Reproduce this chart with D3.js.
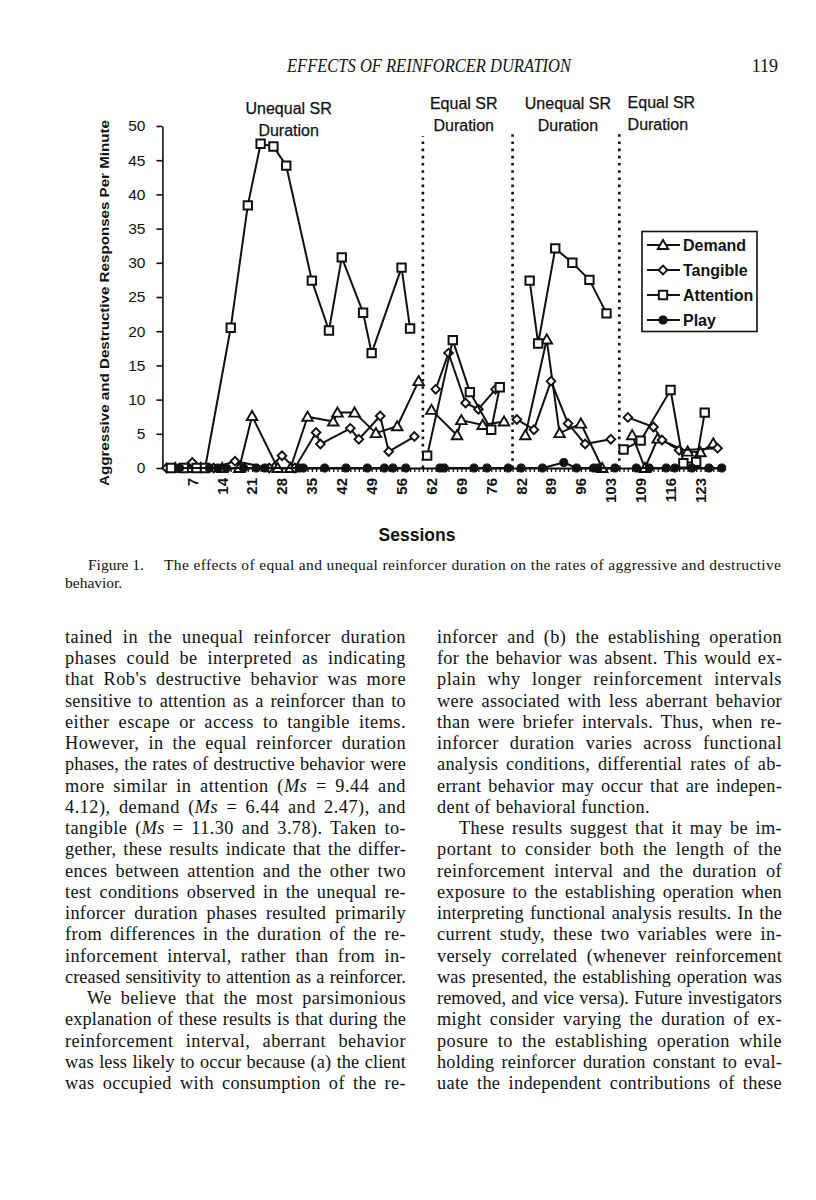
<!DOCTYPE html>
<html>
<head>
<meta charset="utf-8">
<script src="https://cdn.jsdelivr.net/npm/d3@7"></script>
<style>
  body { margin: 0; background: #fff; }
  #page { position: relative; width: 816px; height: 1200px; overflow: hidden; background: #fff; }
</style>
</head>
<body>
<div id="page"></div>
<script>
// Sessions in each phase; a blank category sits between phases
const phaseSessions = [[1, 60], [61, 80], [81, 104], [105, 128]];
const phaseNames = [["Unequal SR", "Duration"], ["Equal SR", "Duration"], ["Unequal SR", "Duration"], ["Equal SR", "Duration"]];
const yTicks = [0, 5, 10, 15, 20, 25, 30, 35, 40, 45, 50];

// [session, responses per minute]
const demand = [[3,0],[6,0],[9,0],[14,0],[18,0],[21,7.6],[27,0],[30,0],[34,7.5],[40,6.8],[41,8.1],[45,8.1],[50,5.1],[55,6.1],[60,12.7],
  [62,8.5],[68,4.8],[69,7.0],[74,6.3],[79,6.8],
  [83,4.8],[88,18.8],[91,5.1],[96,6.5],[101,0],
  [107,4.8],[110,0],[113,4.3],[120,2.4],[123,2.3],[126,3.6]];
const tangible = [[1,0],[7,0.8],[12,0],[17,1.0],[25,0],[28,1.8],[31,0],[36,5.2],[37,3.5],[44,5.8],[46,4.2],[51,7.6],[53,2.4],[59,4.6],
  [63,11.5],[66,16.8],[70,9.5],[73,8.6],[77,11.5],
  [81,7.1],[85,5.6],[89,12.7],[93,6.5],[97,3.5],[103,4.2],
  [106,7.4],[112,6.0],[114,4.1],[118,2.6],[127,2.9]];
const attention = [[2,0],[5,0],[8,0],[10,0],[16,20.5],[20,38.4],[23,47.4],[26,47.0],[29,44.2],[35,27.4],[39,20.1],[42,30.8],[47,22.7],[49,16.8],[56,29.3],[58,20.4],
  [61,1.8],[67,18.7],[71,11.1],[76,5.6],[78,11.8],
  [84,27.4],[86,18.2],[90,32.1],[94,30.0],[98,27.5],[102,22.6],
  [105,2.7],[109,4.0],[116,11.4],[119,0.7],[122,0.9],[124,8.1]];
const play = [[4,0],[11,0],[13,0],[15,0],[19,0],[22,0],[24,0],[32,0],[33,0],[38,0],[43,0],[48,0],[52,0],[54,0],[57,0],
  [64,0],[65,0],[72,0],[75,0],[80,0],
  [82,0],[87,0],[92,0.8],[95,0],[99,0],[100,0],[104,0],
  [108,0],[111,0],[115,0],[117,0],[121,0],[125,0],[128,0]];

const headerText = "EFFECTS OF REINFORCER DURATION";
const pageNumber = "119";
const captionLines = ["Figure 1.", "The effects of equal and unequal reinforcer duration on the rates of aggressive and destructive", "behavior."];

// body text, one entry per printed line; _x_ marks italics, leading ">" a paragraph indent, trailing "|" an unjustified line
const leftColumn = [
  "tained in the unequal reinforcer duration",
  "phases could be interpreted as indicating",
  "that Rob's destructive behavior was more",
  "sensitive to attention as a reinforcer than to",
  "either escape or access to tangible items.",
  "However, in the equal reinforcer duration",
  "phases, the rates of destructive behavior were",
  "more similar in attention (_Ms_ = 9.44 and",
  "4.12), demand (_Ms_ = 6.44 and 2.47), and",
  "tangible (_Ms_ = 11.30 and 3.78). Taken to-",
  "gether, these results indicate that the differ-",
  "ences between attention and the other two",
  "test conditions observed in the unequal re-",
  "inforcer duration phases resulted primarily",
  "from differences in the duration of the re-",
  "inforcement interval, rather than from in-",
  "creased sensitivity to attention as a reinforcer.",
  ">We believe that the most parsimonious",
  "explanation of these results is that during the",
  "reinforcement interval, aberrant behavior",
  "was less likely to occur because (a) the client",
  "was occupied with consumption of the re-"
];
const rightColumn = [
  "inforcer and (b) the establishing operation",
  "for the behavior was absent. This would ex-",
  "plain why longer reinforcement intervals",
  "were associated with less aberrant behavior",
  "than were briefer intervals. Thus, when re-",
  "inforcer duration varies across functional",
  "analysis conditions, differential rates of ab-",
  "errant behavior may occur that are indepen-",
  "dent of behavioral function.|",
  ">These results suggest that it may be im-",
  "portant to consider both the length of the",
  "reinforcement interval and the duration of",
  "exposure to the establishing operation when",
  "interpreting functional analysis results. In the",
  "current study, these two variables were in-",
  "versely correlated (whenever reinforcement",
  "was presented, the establishing operation was",
  "removed, and vice versa). Future investigators",
  "might consider varying the duration of ex-",
  "posure to the establishing operation while",
  "holding reinforcer duration constant to eval-",
  "uate the independent contributions of these"
];

// categories: session numbers with a blank slot between phases
const categories = [];
phaseSessions.forEach(([a, b], i) => {
  if (i > 0) categories.push(null);
  for (let s = a; s <= b; s++) categories.push(s);
});
const idxOf = s => categories.indexOf(s) + 1;
const blanks = categories.map((c, i) => c === null ? i + 1 : -1).filter(i => i > 0);

const svg = d3.select("#page").append("svg")
  .attr("width", 816).attr("height", 1200)
  .style("position", "absolute").style("left", 0).style("top", 0);

const sans = "'Liberation Sans', Arial, sans-serif";
const serif = "'Liberation Serif', 'Times New Roman', serif";

const x = d3.scaleLinear().domain([0, categories.length]).range([162.4, 721.8]);
const y = d3.scaleLinear().domain([0, 50]).range([468, 126]);

// header
svg.append("text").attr("x", 429).attr("y", 72).attr("text-anchor", "middle")
  .attr("font-family", serif).attr("font-style", "italic").attr("font-size", 18)
  .attr("textLength", 284).attr("lengthAdjust", "spacingAndGlyphs")
  .attr("fill", "#111").text(headerText);
svg.append("text").attr("x", 778).attr("y", 72).attr("text-anchor", "end")
  .attr("font-family", serif).attr("font-size", 18).attr("fill", "#111").text(pageNumber);

// axes
const yAxis = svg.append("g").attr("transform", `translate(${x(0)},0)`)
  .call(d3.axisLeft(y).tickValues(yTicks).tickSize(6).tickSizeOuter(0).tickPadding(11));
yAxis.selectAll("text").attr("font-family", sans).attr("font-size", 15.5).attr("fill", "#111");
yAxis.selectAll("line, path").attr("stroke", "#111").attr("stroke-width", 1.6);

const allIdx = d3.range(1, categories.length + 1);
const xAxis = svg.append("g").attr("transform", `translate(0,${y(0)})`)
  .call(d3.axisBottom(x).tickValues(allIdx).tickSize(4).tickSizeOuter(0).tickFormat(""));
xAxis.selectAll("line, path").attr("stroke", "#111").attr("stroke-width", 1.3);
xAxis.select("path").attr("stroke-width", 1.8);

const labelIdx = allIdx.filter(i => i % 7 === 0);
svg.append("g").selectAll("text").data(labelIdx).join("text")
  .attr("transform", d => `translate(${x(d)},478) rotate(-90)`)
  .attr("text-anchor", "end").attr("dy", "0.36em")
  .attr("font-family", sans).attr("font-weight", "bold").attr("font-size", 15)
  .attr("fill", "#111")
  .text(d => categories[d - 1]);

svg.append("text").attr("x", 417).attr("y", 541).attr("text-anchor", "middle")
  .attr("font-family", sans).attr("font-weight", "bold").attr("font-size", 17.5)
  .attr("fill", "#111").text("Sessions");

svg.append("text")
  .attr("transform", `translate(109,${(y(0) + y(50)) / 2 + 6}) rotate(-90)`)
  .attr("text-anchor", "middle")
  .attr("font-family", sans).attr("font-weight", "bold").attr("font-size", 13)
  .attr("textLength", 366).attr("lengthAdjust", "spacingAndGlyphs")
  .attr("fill", "#111").text("Aggressive and Destructive Responses Per Minute");

// phase change lines
svg.append("g").selectAll("line").data(blanks).join("line")
  .attr("x1", d => x(d)).attr("x2", d => x(d))
  .attr("y1", y(0)).attr("y2", (d, i) => i === 0 ? 136 : 133)
  .attr("stroke", "#111").attr("stroke-width", 2.6).attr("stroke-dasharray", "2.6,4.6");

// phase labels
const phaseSpans = phaseSessions.map(([a, b]) => [idxOf(a), idxOf(b)]);
const labelShift = [-4, -4, 2];
phaseNames.forEach((lines, i) => {
  const [a, b] = phaseSpans[i];
  const last = i === phaseNames.length - 1;
  const cx = last ? x(a) + 4 : x((a + b) / 2) + labelShift[i];
  const base = i === 0 ? 114 : (last ? 108 : 109);
  lines.forEach((t, j) => {
    svg.append("text").attr("x", cx).attr("y", base + j * 22)
      .attr("text-anchor", last ? "start" : "middle")
      .attr("font-family", sans).attr("font-size", 16)
      .attr("stroke", "#111").attr("stroke-width", 0.25)
      .attr("fill", "#111").text(t);
  });
});

// series
const series = [
  { name: "Demand", data: demand, shape: "triangle" },
  { name: "Tangible", data: tangible, shape: "diamond" },
  { name: "Attention", data: attention, shape: "square" },
  { name: "Play", data: play, shape: "circle" }
];

function drawMarker(g, shape, cx, cy) {
  if (shape === "triangle") {
    g.append("path").attr("d", d3.symbol().type(d3.symbolTriangle).size(48)())
      .attr("transform", `translate(${cx},${cy + 1})`)
      .attr("fill", "#fff").attr("stroke", "#111").attr("stroke-width", 1.9);
  } else if (shape === "diamond") {
    g.append("path").attr("d", d3.symbol().type(d3.symbolSquare).size(38)())
      .attr("transform", `translate(${cx},${cy}) rotate(45)`)
      .attr("fill", "#fff").attr("stroke", "#111").attr("stroke-width", 1.9);
  } else if (shape === "square") {
    g.append("path").attr("d", d3.symbol().type(d3.symbolSquare).size(70)())
      .attr("transform", `translate(${cx},${cy})`)
      .attr("fill", "#fff").attr("stroke", "#111").attr("stroke-width", 2);
  } else {
    g.append("path").attr("d", d3.symbol().type(d3.symbolCircle).size(52)())
      .attr("transform", `translate(${cx},${cy})`)
      .attr("fill", "#111").attr("stroke", "#111").attr("stroke-width", 1);
  }
}

const line = d3.line().x(d => x(idxOf(d[0]))).y(d => y(d[1]));
const plot = svg.append("g");
series.forEach(s => {
  const g = plot.append("g");
  phaseSessions.forEach(([a, b]) => {
    const pts = s.data.filter(d => d[0] >= a && d[0] <= b).sort((p, q) => p[0] - q[0]);
    if (pts.length > 1) {
      g.append("path").attr("d", line(pts))
        .attr("fill", "none").attr("stroke", "#111").attr("stroke-width", 2)
        .attr("stroke-linejoin", "round");
    }
  });
  s.data.forEach(d => drawMarker(g, s.shape, x(idxOf(d[0])), y(d[1])));
});

// legend
const legend = svg.append("g");
legend.append("rect").attr("x", 642).attr("y", 231.5).attr("width", 115).attr("height", 100)
  .attr("fill", "#fff").attr("stroke", "#111").attr("stroke-width", 1.6);
series.forEach((s, i) => {
  const ly = 245 + i * 25;
  legend.append("line").attr("x1", 647).attr("x2", 680).attr("y1", ly).attr("y2", ly)
    .attr("stroke", "#111").attr("stroke-width", 2);
  drawMarker(legend, s.shape, 663, ly);
  legend.append("text").attr("x", 683).attr("y", ly + 5.5)
    .attr("font-family", sans).attr("font-weight", "bold").attr("font-size", 16)
    .attr("fill", "#111").text(s.name);
});

// caption
svg.append("text").attr("x", 88).attr("y", 570).attr("font-family", serif).attr("font-size", 15.5)
  .attr("fill", "#111").text(captionLines[0]);
svg.append("text").attr("x", 164).attr("y", 570).attr("font-family", serif).attr("font-size", 15.5)
  .attr("textLength", 617).attr("lengthAdjust", "spacing")
  .attr("fill", "#111").text(captionLines[1]);
svg.append("text").attr("x", 65).attr("y", 588).attr("font-family", serif).attr("font-size", 15.5)
  .attr("fill", "#111").text(captionLines[2]);

// body text columns, justified by spreading letter and word spacing
function column(lines, left, right) {
  lines.forEach((raw, i) => {
    let str = raw, indent = 0, justify = true;
    if (str.startsWith(">")) { str = str.slice(1); indent = 22; }
    if (str.endsWith("|")) { str = str.slice(0, -1); justify = false; }
    const t = svg.append("text").attr("x", left + indent).attr("y", 643 + i * 21.24)
      .attr("font-family", serif).attr("font-size", 18.3).attr("fill", "#111")
      .attr("xml:space", "preserve");
    str.split("_").forEach((part, k) => {
      if (!part) return;
      t.append("tspan").attr("font-style", k % 2 ? "italic" : null).text(part);
    });
    const plain = str.replace(/_/g, "");
    const target = right - left - indent;
    let len = t.node().getComputedTextLength();
    if (justify) {
      const ls = 0.45 * (target - len) / (plain.length - 1);
      t.attr("letter-spacing", ls);
      len = t.node().getComputedTextLength();
      const spaces = (plain.match(/ /g) || []).length;
      t.attr("word-spacing", (target - len) / spaces);
    } else {
      t.attr("letter-spacing", 0.35);
    }
  });
}
column(leftColumn, 65, 406);
column(rightColumn, 437, 782);
</script>
</body>
</html>
